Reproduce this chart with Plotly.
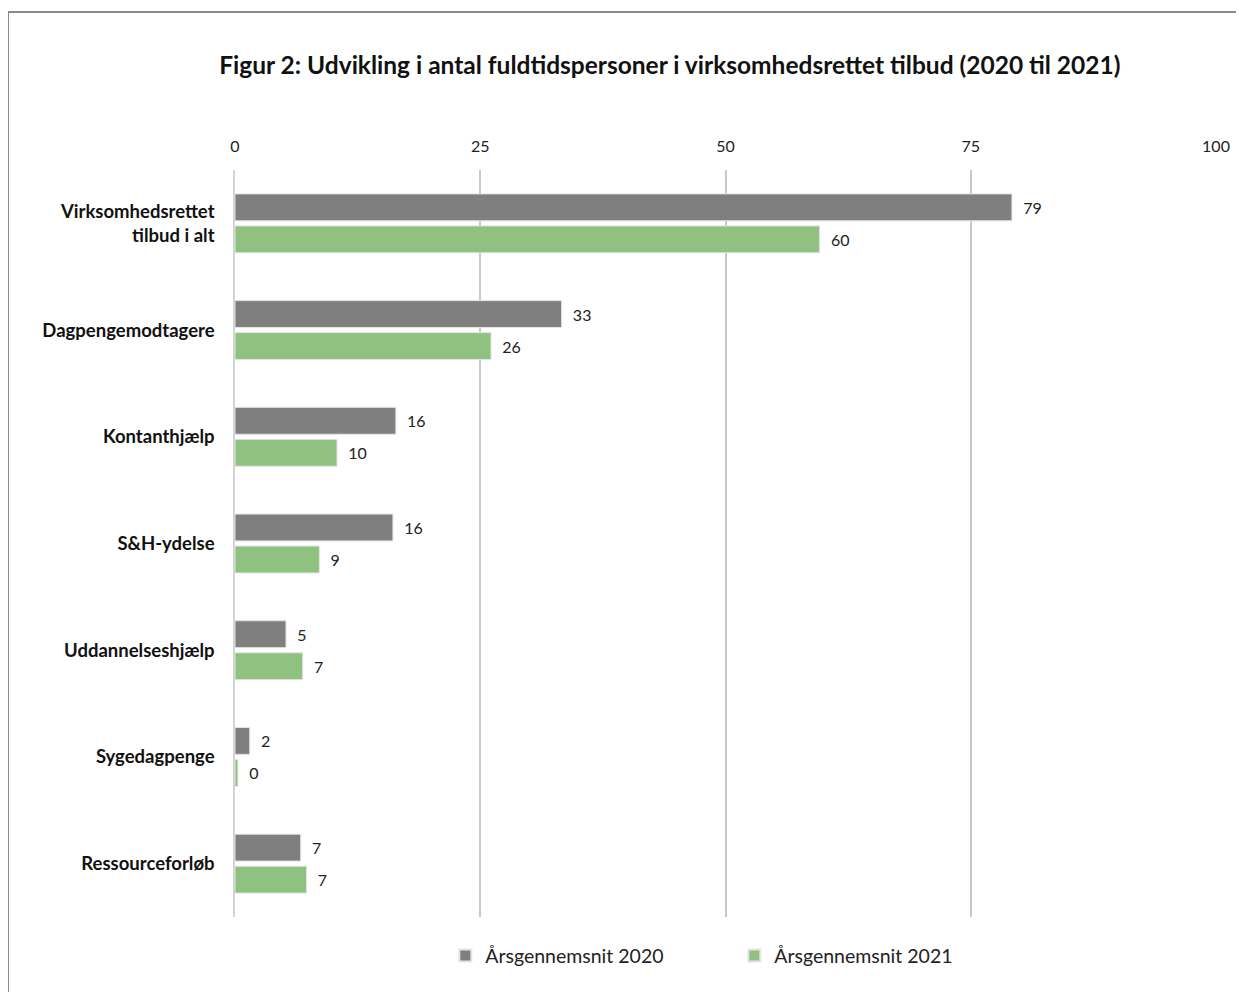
import plotly.graph_objects as go

categories = ['Virksomhedsrettet<br>tilbud i alt', 'Dagpengemodtagere', 'Kontanthjælp',
              'S&H-ydelse', 'Uddannelseshjælp', 'Sygedagpenge', 'Ressourceforløb']
values_2020 = [79.2, 33.3, 16.4, 16.1, 5.2, 1.5, 6.7]
values_2021 = [59.6, 26.1, 10.4, 8.6, 6.9, 0.3, 7.3]
series_names = ['Årsgennemsnit 2020', 'Årsgennemsnit 2021']
tick_vals = [0, 25, 50, 75, 100]

FONT = 'Lato'

fig = go.Figure()
for name, vals, color in [(series_names[0], values_2020, '#7F7F7F'),
                          (series_names[1], values_2021, '#8FC180')]:
    fig.add_trace(go.Bar(
        x=vals, y=categories, name=name, orientation='h',
        marker=dict(color=color, line=dict(color='#E4E4E4', width=1)),
        texttemplate='\u00a0\u00a0%{x:.0f}', textposition='outside', cliponaxis=False,
        textfont=dict(family=FONT, size=16, color='#222222'),
    ))

fig.update_layout(
    width=1244, height=992,
    paper_bgcolor='white', plot_bgcolor='white',
    margin=dict(l=227, r=36, t=162, b=83),
    barmode='group', bargap=0.40, bargroupgap=0.16,
    title=dict(text='<b>Figur 2: Udvikling i antal fuldtidspersoner i virksomhedsrettet tilbud (2020 til 2021)</b>',
               x=0.532, xanchor='center', y=0.942, yanchor='middle',
               font=dict(family=FONT, size=24.5, color='#111111')),
    font=dict(family=FONT, color='#222222'),
    showlegend=True,
    legend=dict(orientation='h', x=0.509, xanchor='center', y=-0.026, yanchor='top',
                font=dict(family=FONT, size=19.5, color='#222222'),
                entrywidth=244, itemsizing='constant'),
    xaxis=dict(range=[0, 100], side='top', tickvals=tick_vals, showgrid=True,
               gridcolor='#C8C8C8', gridwidth=1.5, zeroline=False, showline=False,
               ticks='', ticklabelstandoff=14,
               tickfont=dict(family=FONT, size=16, color='#222222')),
    yaxis=dict(autorange='reversed', showline=True, linecolor='#D4D4D4', linewidth=1.5,
               ticks='', ticklabelstandoff=15,
               tickfont=dict(family=FONT, size=18.5, color='#111111')),
    shapes=[dict(type='rect', xref='paper', yref='paper', x0=-0.2314, x1=1.2, y0=-0.3, y1=1.2115,
                 line=dict(color='#8A8A8A', width=2), layer='below')],
)
fig.update_yaxes(tickprefix='<b>', ticksuffix='</b>')

fig.write_html('out.html')
